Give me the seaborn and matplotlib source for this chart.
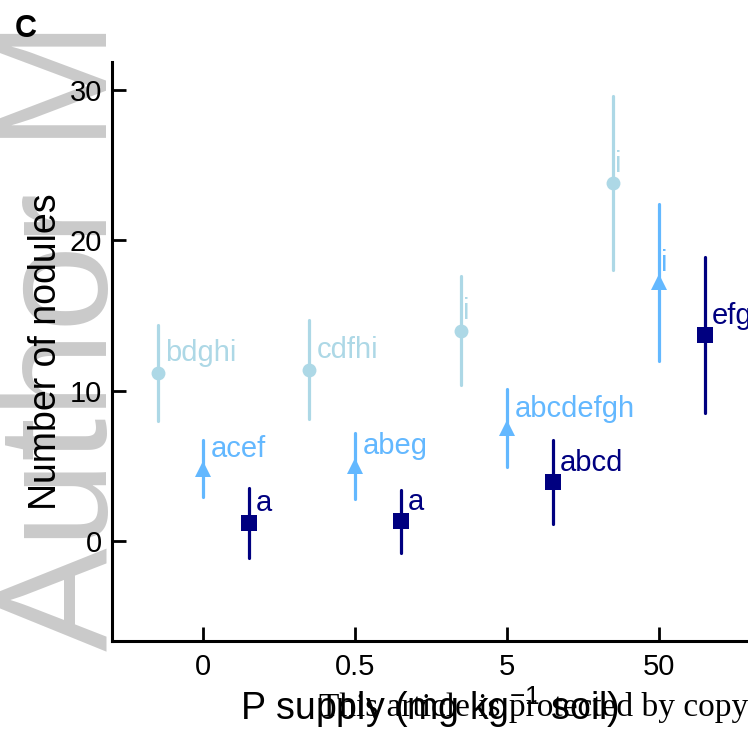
import matplotlib
matplotlib.use("Agg")
import matplotlib.pyplot as plt
import seaborn as sns
import pandas as pd
import numpy as np

# ---- data ----
categories = ["0", "0.5", "5", "50"]
series = ["S1", "S2", "S3"]
means_s1 = [11.2, 11.4, 14.0, 23.8]
se_s1 = [3.2, 3.3, 3.6, 5.8]
means_s2 = [4.8, 5.0, 7.5, 17.2]
se_s2 = [1.9, 2.2, 2.6, 5.2]
means_s3 = [1.2, 1.3, 3.9, 13.7]
se_s3 = [2.3, 2.1, 2.8, 5.2]
letters_s1 = ["bdghi", "cdfhi", "i", "i"]
letters_s2 = ["acef", "abeg", "abcdefgh", "i"]
letters_s3 = ["a", "a", "abcd", "efg"]

colors = ["#ADD8E6", "#63B8FF", "#000080"]
markers = ["o", "^", "s"]
msizes = [10, 12, 11]

sns.set_style("ticks")
plt.rcParams["font.family"] = ["Liberation Sans", "DejaVu Sans"]
plt.rcParams["mathtext.fontset"] = "custom"
plt.rcParams["mathtext.rm"] = "Liberation Sans"
plt.rcParams["mathtext.it"] = "Liberation Sans"
for k in ["text.color", "axes.labelcolor", "xtick.color", "ytick.color", "axes.edgecolor"]:
    plt.rcParams[k] = "black"

# rows: mean - se and mean + se per group, so seaborn's mean and min-max range give mean and bars
rows = []
for s, m, e in zip(series, [means_s1, means_s2, means_s3], [se_s1, se_s2, se_s3]):
    for c, mv, ev in zip(categories, m, e):
        rows.append({"P": c, "series": s, "value": mv - ev})
        rows.append({"P": c, "series": s, "value": mv + ev})
df = pd.DataFrame(rows)

fig = plt.figure(figsize=(7.48, 7.41), dpi=100)
ax = fig.add_axes([0.1497, 0.135, 0.8503, 0.7814])
ax.set_facecolor("none")

dodge = 0.6
for i, s in enumerate(series):
    sub = df[df["series"] == s]
    sns.pointplot(data=sub, x="P", y="value", order=categories, estimator="mean",
                  errorbar=lambda v: (v.min(), v.max()), color=colors[i],
                  linestyle="none", marker="", capsize=0,
                  err_kws={"linewidth": 2.3, "zorder": 2}, ax=ax)

sns.pointplot(data=df, x="P", y="value", hue="series", order=categories,
              hue_order=series, estimator="mean", errorbar=None, dodge=dodge,
              palette=colors, markers=markers, linestyle="none", ax=ax, legend=False,
              markersize=11)

lines = ax.lines
offsets = np.linspace(-dodge / 2, dodge / 2, len(series))
err_lines = [ln for ln in lines if ln.get_marker() in ("", "None", None)]
per_series = len(err_lines) // len(series)
for k, ln in enumerate(err_lines):
    si = k // per_series
    xd = np.asarray(ln.get_xdata(), dtype=float)
    ln.set_xdata(xd + offsets[si])

mk_lines = [ln for ln in lines if ln.get_marker() not in ("", "None", None)]
for ln in mk_lines:
    mk = ln.get_marker()
    if mk in markers:
        idx = markers.index(mk)
        ln.set_markersize(msizes[idx])
        ln.set_zorder(3)
        ln.set_markeredgewidth(0)

# significance letters
for i, (m, labs) in enumerate(zip([means_s1, means_s2, means_s3], [letters_s1, letters_s2, letters_s3])):
    for j, (mv, lab) in enumerate(zip(m, labs)):
        off = 0.012 if lab == "i" else 0.048
        ax.text(j + offsets[i] + off, mv + 1.3, lab, color=colors[i], fontsize=21,
                ha="left", va="center")

ax.set_xlim(-0.6, 3.586)
ax.set_ylim(-6.65, 31.87)
ax.set_yticks([0, 10, 20, 30])
ax.set_xticks(range(len(categories)))
ax.set_xticklabels(categories)
ax.tick_params(direction="in", length=10, width=2, labelsize=21, pad=7)
ax.tick_params(axis="x", pad=9)
for sp in ["top", "right"]:
    ax.spines[sp].set_visible(False)
for sp in ["left", "bottom"]:
    ax.spines[sp].set_linewidth(2.2)
ax.set_ylabel("Number of nodules", fontsize=27, labelpad=4)
ax.set_xlabel("P supply (mg kg$^{-1}$ soil)", fontsize=27, labelpad=2)

# panel letter and watermark texts
fig.text(0.02, 0.961, "C", fontsize=22, fontweight="bold", ha="left", va="center")
fig.text(0.089, 0.122, "Author M", fontsize=112, color="#cacaca",
         rotation=90, ha="center", va="bottom", zorder=-1)
fig.text(0.427, 0.045, "This article is protected by copyright. All rights reserved",
         fontsize=24, family=["Liberation Serif"], ha="left", va="center")

fig.savefig("out.png", dpi=100)
